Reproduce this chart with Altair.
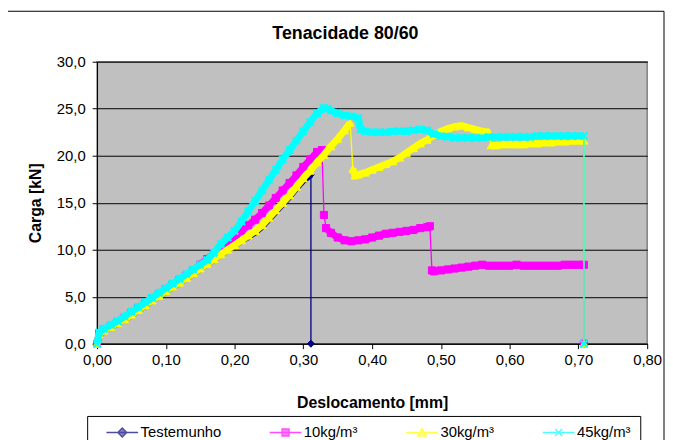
import altair as alt
import pandas as pd

series_names = ["Testemunho", "10kg/m³", "30kg/m³", "45kg/m³"]
series_colors = ["#000080", "#FF00FF", "#FFFF00", "#00FFFF"]

# Testemunho
x_t = [0.0, 0.003, 0.01, 0.02, 0.03, 0.04, 0.05, 0.06, 0.07, 0.08, 0.09, 0.10,
       0.11, 0.12, 0.13, 0.14, 0.15, 0.16, 0.17, 0.18, 0.19, 0.20, 0.21, 0.22,
       0.23, 0.24, 0.25, 0.26, 0.27, 0.28, 0.29, 0.30, 0.311, 0.311]
y_t = [0.0, 1.0, 1.4, 1.8, 2.2, 2.6, 3.1, 3.6, 4.1, 4.6, 5.1, 5.6,
       6.1, 6.5, 7.0, 7.5, 8.0, 8.5, 9.0, 9.5, 10.0, 10.5, 11.0, 11.4,
       11.9, 12.5, 13.3, 14.1, 14.9, 15.7, 16.6, 17.4, 18.0, 0.0]
breaks_t = [33]

# 10kg/m³
x_10 = [0.0, 0.003, 0.01, 0.02, 0.03, 0.04, 0.05, 0.06, 0.07, 0.08, 0.09, 0.10,
        0.11, 0.12, 0.13, 0.14, 0.15, 0.16, 0.17, 0.18, 0.19, 0.20, 0.21, 0.22,
        0.23, 0.24, 0.25, 0.26, 0.27, 0.28, 0.29, 0.30, 0.31, 0.32, 0.327,
        0.330, 0.333, 0.34, 0.35, 0.36, 0.37, 0.38, 0.39, 0.40, 0.41, 0.42, 0.43,
        0.44, 0.45, 0.46, 0.47, 0.48, 0.484, 0.487, 0.49, 0.50, 0.51, 0.52, 0.53,
        0.54, 0.55, 0.56, 0.57, 0.58, 0.59, 0.60, 0.61, 0.62, 0.63, 0.64, 0.65,
        0.66, 0.67, 0.68, 0.69, 0.70, 0.708, 0.708]
y_10 = [0.0, 1.1, 1.5, 1.9, 2.3, 2.8, 3.3, 3.8, 4.3, 4.8, 5.3, 5.8,
        6.3, 6.8, 7.3, 7.8, 8.4, 9.0, 9.6, 10.2, 10.8, 11.4, 12.0, 12.6,
        13.2, 13.9, 14.7, 15.5, 16.3, 17.1, 17.9, 18.8, 19.6, 20.4, 20.6,
        13.7, 12.3, 11.8, 11.3, 11.0, 10.9, 11.0, 11.1, 11.3, 11.5, 11.7, 11.8,
        11.9, 12.0, 12.1, 12.3, 12.4, 12.5, 7.8, 7.7, 7.8, 7.9, 8.0, 8.1,
        8.2, 8.3, 8.4, 8.3, 8.3, 8.3, 8.3, 8.4, 8.3, 8.3, 8.3, 8.3,
        8.3, 8.3, 8.4, 8.4, 8.4, 8.4, 0.0]
breaks_10 = [35, 36, 53, 77]

# 30kg/m³
x_30 = [0.0, 0.003, 0.01, 0.02, 0.03, 0.04, 0.05, 0.06, 0.07, 0.08, 0.09, 0.10,
        0.11, 0.12, 0.13, 0.14, 0.15, 0.16, 0.17, 0.18, 0.19, 0.20, 0.21, 0.22,
        0.23, 0.24, 0.25, 0.26, 0.27, 0.28, 0.29, 0.30, 0.31, 0.32, 0.33, 0.34,
        0.35, 0.36, 0.368, 0.372, 0.375,
        0.38, 0.39, 0.40, 0.41, 0.42, 0.43, 0.44, 0.45, 0.46, 0.47, 0.48, 0.49,
        0.50, 0.51, 0.52, 0.53, 0.54, 0.55, 0.56, 0.57, 0.573,
        0.58, 0.59, 0.60, 0.61, 0.62, 0.63, 0.64, 0.65, 0.66, 0.67, 0.68, 0.69,
        0.70, 0.708, 0.708]
y_30 = [0.0, 1.0, 1.4, 1.8, 2.2, 2.6, 3.1, 3.6, 4.1, 4.6, 5.1, 5.6,
        6.1, 6.5, 7.0, 7.5, 8.0, 8.5, 9.0, 9.5, 10.0, 10.5, 11.0, 11.5,
        12.0, 12.6, 13.4, 14.2, 15.0, 15.8, 16.7, 17.6, 18.4, 19.3, 20.1, 21.0,
        21.8, 22.7, 23.5, 18.6, 17.9,
        18.0, 18.2, 18.5, 18.8, 19.1, 19.4, 19.8, 20.3, 20.8, 21.3, 21.7, 22.2,
        22.6, 22.9, 23.1, 23.2, 23.0, 22.8, 22.6, 22.5, 21.1,
        21.1, 21.2, 21.2, 21.2, 21.2, 21.3, 21.3, 21.4, 21.4, 21.5, 21.5, 21.6,
        21.6, 21.6, 0.0]
breaks_30 = [39, 61, 76]

# 45kg/m³
x_45 = [0.0, 0.003, 0.01, 0.02, 0.03, 0.04, 0.05, 0.06, 0.07, 0.08, 0.09, 0.10,
        0.11, 0.12, 0.13, 0.14, 0.15, 0.16, 0.17, 0.18, 0.19, 0.20, 0.21, 0.22,
        0.23, 0.24, 0.25, 0.26, 0.27, 0.28, 0.29, 0.30, 0.31, 0.32, 0.33,
        0.335, 0.34, 0.35, 0.36, 0.37, 0.38, 0.383,
        0.39, 0.40, 0.41, 0.42, 0.43, 0.44, 0.45, 0.46, 0.47, 0.48, 0.49, 0.50,
        0.51, 0.52, 0.53, 0.54, 0.55, 0.56, 0.57, 0.58, 0.59, 0.60, 0.61, 0.62,
        0.63, 0.64, 0.65, 0.66, 0.67, 0.68, 0.69, 0.70, 0.708, 0.708]
y_45 = [0.0, 1.2, 1.6, 2.0, 2.4, 2.9, 3.4, 3.9, 4.4, 4.9, 5.4, 5.9,
        6.4, 6.9, 7.4, 7.9, 8.4, 8.9, 9.7, 10.6, 11.3, 12.0, 13.0, 14.1,
        15.2, 16.3, 17.4, 18.5, 19.6, 20.6, 21.6, 22.6, 23.6, 24.5, 25.1,
        25.0, 24.8, 24.5, 24.3, 24.2, 24.0, 22.8,
        22.6, 22.5, 22.5, 22.5, 22.6, 22.6, 22.6, 22.7, 22.8, 22.7, 22.3, 22.1,
        22.0, 21.9, 21.9, 21.9, 21.9, 21.9, 22.0, 22.0, 22.0, 22.0, 22.0, 22.0,
        22.0, 22.1, 22.1, 22.1, 22.1, 22.1, 22.1, 22.1, 22.1, 0.0]
breaks_45 = [75]

x_ticks = [0.0, 0.1, 0.2, 0.3, 0.4, 0.5, 0.6, 0.7, 0.8]
y_ticks = [0, 5, 10, 15, 20, 25, 30]

series_data = [
    ("Testemunho", x_t, y_t, breaks_t),
    ("10kg/m³", x_10, y_10, breaks_10),
    ("30kg/m³", x_30, y_30, breaks_30),
    ("45kg/m³", x_45, y_45, breaks_45),
]

rows = []
for name, xs, ys, brks in series_data:
    seg = 0
    for i, (xv, yv) in enumerate(zip(xs, ys)):
        if i in brks:
            seg += 1
        rows.append({"series": name, "x": xv, "y": yv, "idx": i, "seg": seg})
df = pd.DataFrame(rows)

FONT = "Liberation Sans"

x_enc = alt.X(
    "x:Q",
    scale=alt.Scale(domain=[0, 0.8], nice=False, zero=False),
    axis=alt.Axis(
        values=x_ticks,
        labelExpr="replace(format(datum.value, '.2f'), '.', ',')",
        title="Deslocamento [mm]",
        grid=False,
        tickSize=5,
        labelPadding=4,
        titlePadding=27,
        labelFlush=False,
        labelOverlap=False,
    ),
)
y_enc = alt.Y(
    "y:Q",
    scale=alt.Scale(domain=[0, 30], nice=False),
    axis=alt.Axis(
        values=y_ticks,
        labelExpr="replace(format(datum.value, '.1f'), '.', ',')",
        title="Carga [kN]",
        grid=True,
        tickSize=5,
        labelPadding=7,
        titlePadding=13,
        labelFlush=False,
        labelOverlap=False,
    ),
)

marker_defs = {
    "Testemunho": dict(shape="diamond", size=50, filled=True),
    "10kg/m³": dict(shape="square", size=52, filled=True),
    "30kg/m³": dict(shape="triangle-up", size=64, filled=True),
    "45kg/m³": dict(shape="M-1,-1L1,1M-1,1L1,-1", size=52, filled=False),
}

layers = []
for name, color in zip(series_names, series_colors):
    base = alt.Chart(df).transform_filter(alt.datum.series == name)
    band = base.mark_line(color=color, strokeWidth=7, strokeJoin="miter").encode(
        x=x_enc, y=y_enc, order=alt.Order("idx:Q"), detail="seg:N"
    )
    line = base.mark_line(color=color, strokeWidth=1.3).encode(
        x=x_enc, y=y_enc, order=alt.Order("idx:Q")
    )
    md = marker_defs[name]
    if md["filled"]:
        pts = base.mark_point(
            shape=md["shape"], size=md["size"], filled=True, fill=color,
            stroke=color, strokeWidth=1, opacity=1
        ).encode(x=x_enc, y=y_enc)
    else:
        pts = base.mark_point(
            shape=md["shape"], size=md["size"], filled=False, stroke=color,
            strokeWidth=2.2, opacity=1
        ).encode(x=x_enc, y=y_enc)
    layers += [line, band, pts]

legend_paths = [
    "M0.6,0H7M3.8,-0.9L4.7,0L3.8,0.9L2.9,0Z",
    "M0.6,0H7M3.1,-0.7H4.5V0.7H3.1Z",
    "M0.6,0H7M3.8,-0.8L4.7,0.7L2.9,0.7Z",
    "M0.6,0H7M3.1,-0.7L4.5,0.7M3.1,0.7L4.5,-0.7",
]

leg = alt.Legend(
    title=None,
    orient="none",
    legendX=-10,
    legendY=358,
    direction="horizontal",
    columns=4,
    columnPadding=38,
    padding=9,
    strokeColor="#000000",
    fillColor="#FFFFFF",
    labelFont=FONT,
    labelFontSize=15,
    labelColor="#000000",
    labelOffset=30,
    symbolSize=100,
    symbolStrokeWidth=1.4,
)

legend_layer = alt.Chart(df).transform_filter("false").mark_point(
    filled=True, strokeWidth=1.4
).encode(
    x=x_enc,
    y=y_enc,
    fill=alt.Fill("series:N", scale=alt.Scale(domain=series_names, range=series_colors), legend=leg),
    stroke=alt.Stroke("series:N", scale=alt.Scale(domain=series_names, range=series_colors), legend=leg),
    shape=alt.Shape("series:N", scale=alt.Scale(domain=series_names, range=legend_paths), legend=leg),
)

border = alt.Chart(alt.Data(values=[{"a": 1}])).mark_rect(
    filled=False, stroke="#000000", strokeWidth=1
).encode(
    x=alt.value(-91), x2=alt.value(573), y=alt.value(-51), y2=alt.value(420)
)

chart = alt.layer(*layers, legend_layer, border).properties(
    width=556,
    height=285,
    title=alt.TitleParams(
        "Tenacidade 80/60",
        font=FONT,
        fontSize=18,
        fontWeight="bold",
        color="#000000",
        anchor="middle",
        frame="group",
        baseline="alphabetic",
        offset=-47,
        dx=-27,
    ),
    autosize=alt.AutoSizeParams(type="none"),
    padding={"left": 90, "top": 52, "right": 18, "bottom": 95},
).configure_view(
    fill="#C0C0C0", stroke="#808080", strokeWidth=1.5
).configure_axis(
    labelFont=FONT,
    labelFontSize=15,
    labelColor="#000000",
    titleFont=FONT,
    titleFontSize=16,
    titleFontWeight="bold",
    titleColor="#000000",
    domainColor="#000000",
    domainWidth=1,
    tickColor="#000000",
    tickWidth=1,
    gridColor="#000000",
    gridWidth=1,
    gridOpacity=1,
)

chart.save("out.html", embed_options={"renderer": "svg", "actions": False})
